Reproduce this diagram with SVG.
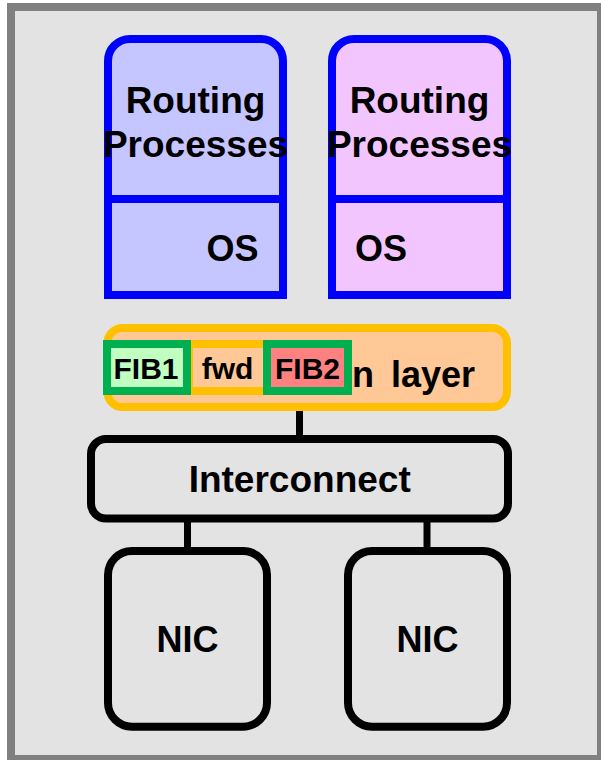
<svg xmlns="http://www.w3.org/2000/svg" width="601" height="760" viewBox="0 0 601 760">
<style>
text{font-family:"Liberation Sans",Arial,sans-serif;font-weight:bold;fill:#000;text-anchor:middle}
.big{font-size:36px}
.lg{font-size:37px}
.mid{font-size:30px}
.blue{stroke:#0000ff;stroke-width:8}
.blk{fill:none;stroke:#000;stroke-width:8}
.fib{stroke:#00b050;stroke-width:8}
.conn{stroke:#000;stroke-width:7;fill:none}
</style>
<rect x="11" y="7" width="590" height="752" fill="#e3e3e3" stroke="#808080" stroke-width="8"/>
<g id="rp1">
<path class="blue" fill="#c5c5ff" d="M108,295 V61 A22,22 0 0 1 130,39 H261 A22,22 0 0 1 283,61 V295 Z"/>
<line class="blue" x1="108" y1="199" x2="283" y2="199"/>
<text class="lg" x="195.5" y="113">Routing</text>
<text class="lg" x="195.5" y="157">Processes</text>
<text class="big" x="232.5" y="261">OS</text>
</g>
<g id="rp2">
<path class="blue" fill="#f3c5ff" d="M332,295 V61 A22,22 0 0 1 354,39 H485 A22,22 0 0 1 507,61 V295 Z"/>
<line class="blue" x1="332" y1="199" x2="507" y2="199"/>
<text class="lg" x="419.5" y="113">Routing</text>
<text class="lg" x="419.5" y="157">Processes</text>
<text class="big" x="381" y="261">OS</text>
</g>
<g id="connectors">
<line class="conn" x1="299.5" y1="411" x2="299.5" y2="439"/>
<line class="conn" x1="187.5" y1="518" x2="187.5" y2="551"/>
<line class="conn" x1="427" y1="518" x2="427" y2="551"/>
</g>
<g id="layer">
<rect x="107.5" y="328" width="399.5" height="79" rx="15" fill="#ffc896" stroke="#ffc000" stroke-width="8"/>
<text class="big" x="352" y="387" style="text-anchor:start;word-spacing:7px">n layer</text>
</g>
<g id="fwd">
<rect x="189" y="344" width="78" height="47" rx="4" fill="#ffc896" stroke="#ffc000" stroke-width="8"/>
<text class="mid" x="227.5" y="379">fwd</text>
</g>
<g id="fib1">
<rect class="fib" x="107" y="344" width="80" height="47" fill="#c0ffc0"/>
<text class="mid" x="146" y="379">FIB1</text>
</g>
<g id="fib2">
<rect class="fib" x="267" y="344" width="81" height="47" fill="#ff8080"/>
<text class="mid" x="307.5" y="379">FIB2</text>
</g>
<g id="interconnect">
<rect class="blk" x="91" y="439" width="417" height="79.5" rx="15"/>
<text class="lg" x="299.7" y="492">Interconnect</text>
</g>
<g id="nic1">
<rect class="blk" x="108" y="551" width="159" height="175.7" rx="24"/>
<text class="big" x="187.5" y="652">NIC</text>
</g>
<g id="nic2">
<rect class="blk" x="348" y="551" width="159" height="175.7" rx="24"/>
<text class="big" x="427.5" y="652">NIC</text>
</g>
</svg>
